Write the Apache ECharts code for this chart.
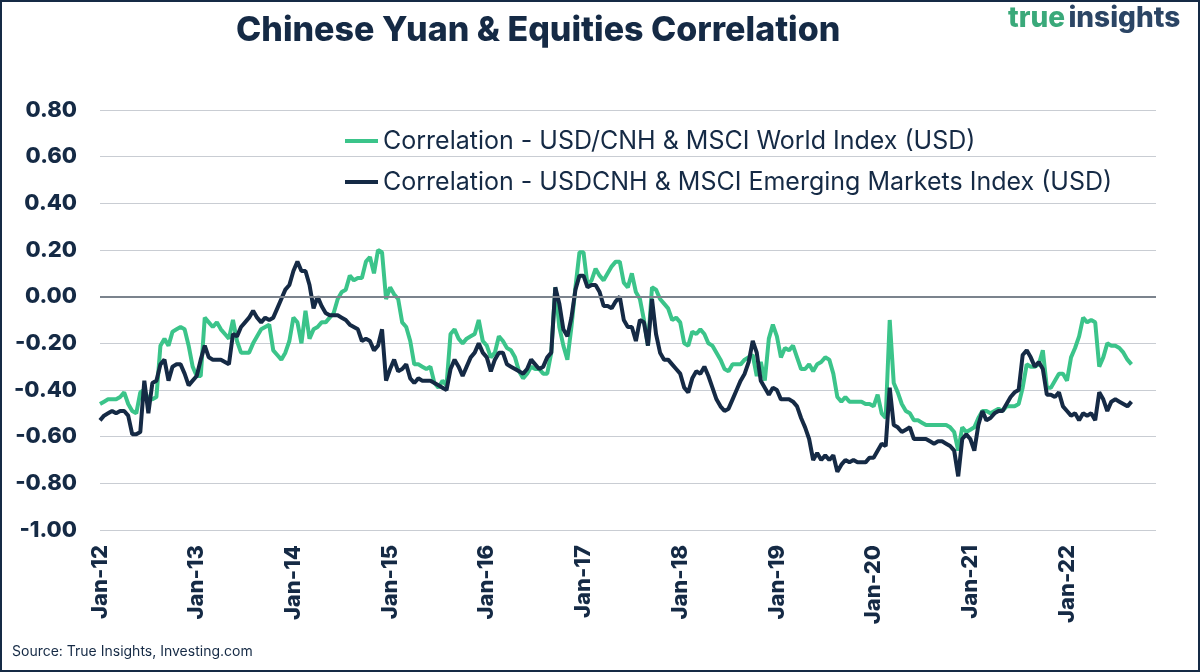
<!DOCTYPE html>
<html>
<head>
<meta charset="utf-8">
<script src="https://cdn.jsdelivr.net/npm/echarts@6/dist/echarts.min.js"></script>
<style>
  html, body { margin: 0; padding: 0; background: #ffffff; }
  #chart { width: 1200px; height: 672px; }
</style>
</head>
<body>
<div id="chart"></div>
<script>
// Semi-monthly observations starting Jan 2012 (index i -> 2012 + i/24)
const startYear = 2012;
const pointsPerYear = 24;
const tickLabels = ['Jan-12','Jan-13','Jan-14','Jan-15','Jan-16','Jan-17','Jan-18','Jan-19','Jan-20','Jan-21','Jan-22'];
const seriesNames = ['Correlation - USD/CNH & MSCI World Index (USD)', 'Correlation - USDCNH & MSCI Emerging Markets Index (USD)'];

const worldCorr = [
  -0.46,-0.45,-0.44,-0.44,-0.44,-0.43,-0.41,-0.46,-0.49,-0.50,-0.41,-0.40,-0.44,-0.44,-0.43,-0.21,-0.18,-0.21,-0.15,-0.14,-0.13,-0.14,-0.21,-0.30,
  -0.34,-0.34,-0.09,-0.11,-0.13,-0.11,-0.14,-0.16,-0.18,-0.10,-0.19,-0.24,-0.24,-0.24,-0.20,-0.17,-0.14,-0.13,-0.12,-0.23,-0.25,-0.27,-0.24,-0.19,
  -0.09,-0.11,-0.20,-0.06,-0.18,-0.14,-0.13,-0.11,-0.11,-0.09,-0.07,-0.01,0.02,0.03,0.09,0.07,0.08,0.08,0.15,0.17,0.10,0.20,0.19,-0.01,
  0.04,0.01,-0.01,-0.11,-0.13,-0.19,-0.29,-0.29,-0.30,-0.31,-0.30,-0.37,-0.39,-0.36,-0.38,-0.16,-0.14,-0.18,-0.20,-0.18,-0.17,-0.16,-0.10,-0.19,
  -0.21,-0.26,-0.24,-0.17,-0.19,-0.22,-0.23,-0.26,-0.32,-0.35,-0.33,-0.30,-0.31,-0.31,-0.33,-0.33,-0.24,0.04,-0.13,-0.21,-0.27,-0.13,0.04,0.19,
  0.19,0.05,0.07,0.12,0.09,0.07,0.10,0.13,0.15,0.15,0.06,0.04,0.10,0.02,-0.01,-0.10,-0.21,0.04,0.03,-0.01,-0.03,-0.05,-0.10,-0.09,
  -0.11,-0.20,-0.21,-0.15,-0.16,-0.14,-0.16,-0.20,-0.21,-0.24,-0.27,-0.31,-0.32,-0.29,-0.29,-0.29,-0.27,-0.26,-0.25,-0.34,-0.28,-0.36,-0.18,-0.12,
  -0.17,-0.26,-0.22,-0.23,-0.21,-0.26,-0.31,-0.31,-0.29,-0.32,-0.29,-0.28,-0.26,-0.27,-0.33,-0.43,-0.45,-0.43,-0.45,-0.45,-0.45,-0.45,-0.46,-0.46,
  -0.47,-0.42,-0.50,-0.52,-0.10,-0.37,-0.41,-0.46,-0.49,-0.50,-0.53,-0.53,-0.54,-0.55,-0.55,-0.55,-0.55,-0.55,-0.55,-0.56,-0.58,-0.66,-0.56,-0.58,
  -0.57,-0.56,-0.52,-0.49,-0.49,-0.50,-0.49,-0.48,-0.49,-0.47,-0.47,-0.47,-0.46,-0.39,-0.29,-0.30,-0.30,-0.29,-0.23,-0.39,-0.39,-0.36,-0.33,-0.33,
  -0.36,-0.26,-0.22,-0.17,-0.09,-0.11,-0.10,-0.11,-0.30,-0.26,-0.20,-0.21,-0.21,-0.22,-0.24,-0.27,-0.29
];

const emCorr = [
  -0.53,-0.51,-0.50,-0.49,-0.50,-0.49,-0.49,-0.51,-0.59,-0.59,-0.58,-0.36,-0.50,-0.37,-0.36,-0.29,-0.27,-0.36,-0.30,-0.29,-0.29,-0.33,-0.38,-0.36,
  -0.34,-0.27,-0.21,-0.26,-0.27,-0.27,-0.27,-0.28,-0.29,-0.16,-0.17,-0.13,-0.11,-0.09,-0.06,-0.09,-0.11,-0.09,-0.10,-0.09,-0.05,-0.01,0.03,0.05,
  0.11,0.15,0.11,0.11,0.05,-0.05,0.00,-0.04,-0.07,-0.08,-0.08,-0.08,-0.09,-0.10,-0.12,-0.13,-0.14,-0.19,-0.18,-0.19,-0.23,-0.21,-0.14,-0.36,
  -0.31,-0.27,-0.32,-0.31,-0.29,-0.35,-0.37,-0.35,-0.36,-0.36,-0.36,-0.37,-0.38,-0.39,-0.40,-0.31,-0.27,-0.30,-0.34,-0.30,-0.26,-0.24,-0.20,-0.24,
  -0.26,-0.32,-0.27,-0.24,-0.24,-0.29,-0.30,-0.31,-0.32,-0.33,-0.31,-0.27,-0.29,-0.31,-0.30,-0.26,-0.24,0.04,-0.03,-0.14,-0.17,-0.09,0.03,0.09,
  0.09,0.04,0.05,0.05,0.02,-0.04,-0.04,-0.05,-0.02,0.00,-0.10,-0.13,-0.13,-0.19,-0.10,-0.11,-0.21,-0.01,-0.16,-0.24,-0.27,-0.27,-0.29,-0.31,
  -0.33,-0.39,-0.41,-0.35,-0.32,-0.33,-0.30,-0.34,-0.39,-0.44,-0.47,-0.49,-0.48,-0.44,-0.40,-0.36,-0.33,-0.28,-0.19,-0.24,-0.36,-0.39,-0.42,-0.39,
  -0.40,-0.44,-0.44,-0.44,-0.45,-0.47,-0.52,-0.56,-0.61,-0.70,-0.67,-0.70,-0.68,-0.70,-0.68,-0.75,-0.72,-0.70,-0.71,-0.70,-0.71,-0.71,-0.71,-0.69,
  -0.69,-0.66,-0.63,-0.64,-0.39,-0.55,-0.56,-0.58,-0.57,-0.56,-0.61,-0.61,-0.61,-0.61,-0.62,-0.63,-0.62,-0.62,-0.63,-0.64,-0.66,-0.77,-0.61,-0.59,
  -0.61,-0.66,-0.55,-0.49,-0.53,-0.52,-0.50,-0.49,-0.49,-0.46,-0.43,-0.41,-0.40,-0.25,-0.23,-0.26,-0.30,-0.28,-0.31,-0.42,-0.42,-0.43,-0.41,-0.47,
  -0.49,-0.51,-0.50,-0.53,-0.50,-0.51,-0.50,-0.53,-0.41,-0.44,-0.49,-0.45,-0.44,-0.45,-0.46,-0.47,-0.45
];

const GREEN = '#3bc48a';
const NAVY = '#152a45';
const FONT = 'Inter';

function toPairs(arr) {
  return arr.map((v, i) => [startYear + i / pointsPerYear, v]);
}

const chart = echarts.init(document.getElementById('chart'), null, { renderer: 'canvas' });

const option = {
  backgroundColor: '#ffffff',
  animation: false,
  title: {
    text: 'Chinese Yuan & Equities Correlation',
    left: 231,
    top: 9,
    textStyle: { fontFamily: FONT, fontWeight: 800, fontSize: 34, color: NAVY }
  },
  grid: { left: 100, right: 44, top: 110, bottom: 142, containLabel: false },
  legend: {
    data: seriesNames,
    orient: 'vertical',
    left: 340,
    top: 122,
    icon: 'rect',
    itemWidth: 33,
    itemHeight: 4,
    itemGap: 13,
    textStyle: { fontFamily: FONT, fontSize: 25, color: NAVY, lineHeight: 28 }
  },
  xAxis: {
    type: 'value',
    min: startYear,
    max: startYear + (1156 - 100) / 96.7,
    interval: 1,
    axisLine: { show: false },
    axisTick: { show: false },
    splitLine: { show: false },
    axisLabel: {
      rotate: 90,
      margin: 15,
      fontFamily: FONT,
      fontWeight: 800,
      fontSize: 22,
      color: NAVY,
      showMaxLabel: false,
      formatter: function (v) {
        const k = Math.round(v - startYear);
        if (Math.abs(v - startYear - k) > 1e-6) return '';
        return tickLabels[k] || '';
      }
    }
  },
  yAxis: {
    type: 'value',
    min: -1,
    max: 0.8,
    interval: 0.2,
    axisLine: { show: false },
    axisTick: { show: false },
    splitLine: { show: true, lineStyle: { color: '#c9cdd3', width: 1 } },
    axisLabel: {
      margin: 23,
      fontFamily: FONT,
      fontWeight: 800,
      fontSize: 22,
      color: NAVY,
      formatter: function (v) { return v.toFixed(2); }
    }
  },
  graphic: [
    {
      type: 'rect',
      silent: true,
      shape: { x: 1, y: 1, width: 1198, height: 670 },
      style: { fill: 'none', stroke: NAVY, lineWidth: 2 }
    },
    {
      type: 'text',
      left: 1008,
      top: 5,
      style: {
        text: '{a|true} {b|insights}',
        rich: {
          a: { fontFamily: FONT, fontWeight: 800, fontSize: 28, fill: '#3aa97a' },
          b: { fontFamily: FONT, fontWeight: 800, fontSize: 28, fill: '#2b4565' }
        }
      }
    },
    {
      type: 'text',
      left: 12,
      top: 645,
      style: { text: 'Source: True Insights, Investing.com', fontFamily: FONT, fontSize: 14, fill: NAVY }
    }
  ],
  series: [
    {
      type: 'line',
      name: '__zero',
      data: [],
      silent: true,
      markLine: {
        silent: true,
        symbol: ['none', 'none'],
        label: { show: false },
        lineStyle: { color: '#7b838d', width: 2, type: 'solid' },
        data: [{ yAxis: 0 }]
      }
    },
    {
      type: 'line',
      name: seriesNames[0],
      data: toPairs(worldCorr),
      symbol: 'none',
      color: GREEN,
      lineStyle: { color: GREEN, width: 4 }
    },
    {
      type: 'line',
      name: seriesNames[1],
      data: toPairs(emCorr),
      symbol: 'none',
      color: NAVY,
      lineStyle: { color: NAVY, width: 4 }
    }
  ]
};

chart.setOption(option);
</script>
</body>
</html>
